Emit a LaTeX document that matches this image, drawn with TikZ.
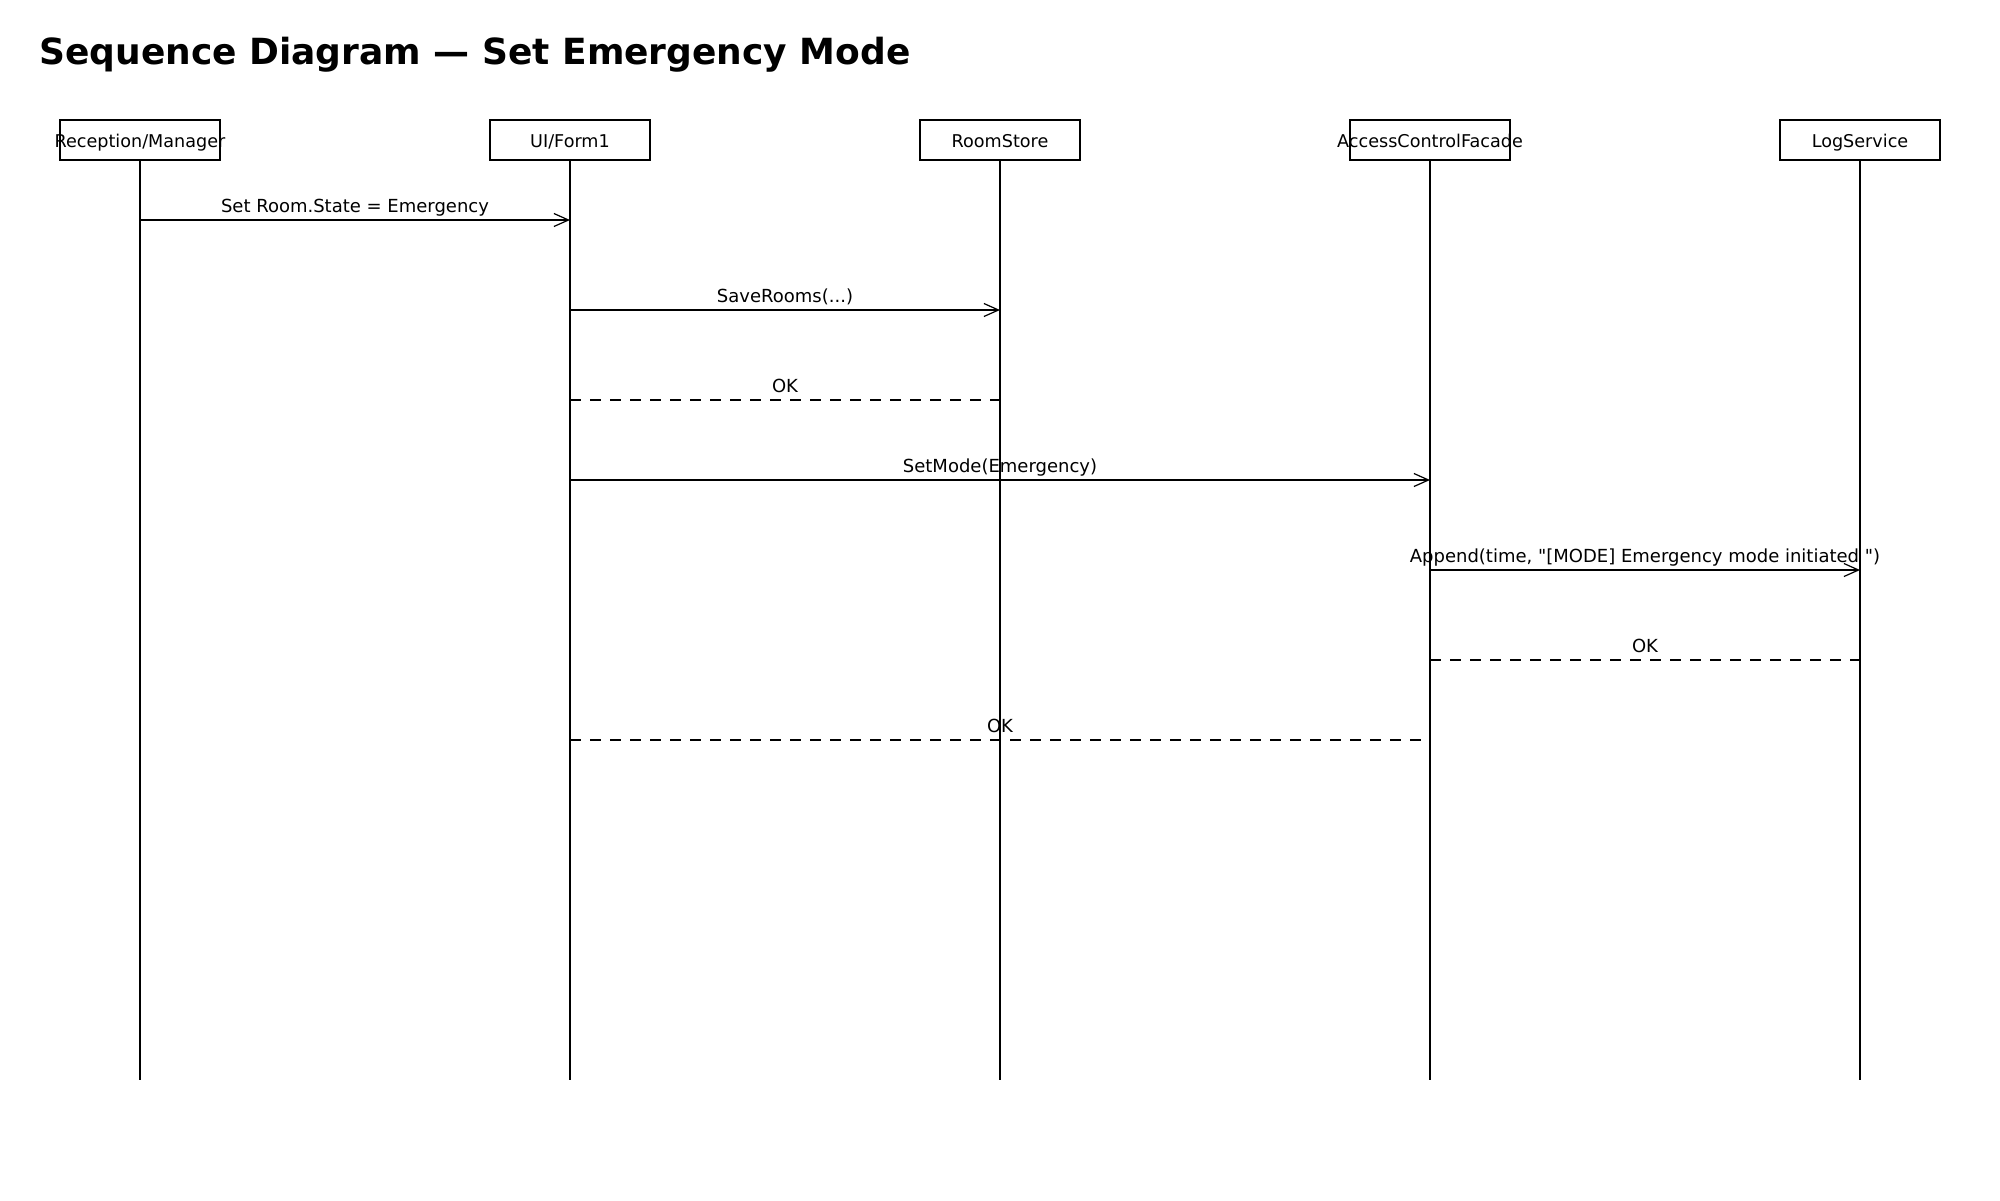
\documentclass[tikz,border=0pt]{standalone}
\usepackage{fontspec}
\setmainfont{DejaVu Sans}
\newfontfamily\rawfont{DejaVu Sans}[Ligatures=ResetAll]
\usetikzlibrary{arrows.meta}
\begin{document}
\begin{tikzpicture}[x=0.5pt,y=-0.5pt,
  lifebox/.style={draw, line width=1pt, minimum width=80pt, minimum height=20pt, inner sep=0pt},
  boxlabel/.style={inner sep=0pt, anchor=base, yshift=-3.5pt, font=\fontsize{8.8pt}{10pt}\selectfont},
  life/.style={line width=1pt},
  call/.style={line width=1pt, -{Straight Barb[length=7.3pt,width=6.5pt,line width=0.6pt]}},
  reply/.style={line width=1pt, dash pattern=on 5.5pt off 4.5pt},
  msglabel/.style={midway, anchor=base, yshift=4pt, inner sep=0pt, font=\rawfont\fontsize{9pt}{11pt}\selectfont}]
\useasboundingbox (0,0) rectangle (2000,1200);

\node[anchor=base west, inner sep=0pt, font=\bfseries\fontsize{18pt}{21pt}\selectfont] (title) at (39,64) {Sequence Diagram — Set Emergency Mode};

% lifeline heads
\node[lifebox] (bRM) at (140,140) {};
\node[lifebox] (bUI) at (570,140) {};
\node[lifebox] (bRS) at (1000,140) {};
\node[lifebox] (bAC) at (1430,140) {};
\node[lifebox] (bLS) at (1860,140) {};
\node[boxlabel] (tRM) at (bRM.center) {Reception/Manager};
\node[boxlabel] (tUI) at (bUI.center) {UI/Form1};
\node[boxlabel] (tRS) at (bRS.center) {RoomStore};
\node[boxlabel] (tAC) at (bAC.center) {AccessControlFacade};
\node[boxlabel] (tLS) at (bLS.center) {LogService};

% lifeline ends
\coordinate (eRM) at (140,1080);
\coordinate (eUI) at (570,1080);
\coordinate (eRS) at (1000,1080);
\coordinate (eAC) at (1430,1080);
\coordinate (eLS) at (1860,1080);
\draw[life] (bRM.south) -- (eRM);
\draw[life] (bUI.south) -- (eUI);
\draw[life] (bRS.south) -- (eRS);
\draw[life] (bAC.south) -- (eAC);
\draw[life] (bLS.south) -- (eLS);

% message rows
\coordinate (r1) at (0,220);
\coordinate (r2) at (0,310);
\coordinate (r3) at (0,400);
\coordinate (r4) at (0,480);
\coordinate (r5) at (0,570);
\coordinate (r6) at (0,660);
\coordinate (r7) at (0,740);

\draw[call] (bRM |- r1) -- node[msglabel] (m1) {Set Room.State = Emergency} (bUI |- r1);
\draw[call] (bUI |- r2) -- node[msglabel] (m2) {SaveRooms(...)} (bRS |- r2);
\draw[reply] (bUI |- r3) -- node[msglabel] (m3) {OK} (bRS |- r3);
\draw[call] (bUI |- r4) -- node[msglabel] (m4) {SetMode(Emergency)} (bAC |- r4);
\draw[call] (bAC |- r5) -- node[msglabel] (m5) {Append(time, "[MODE] Emergency mode initiated ")} (bLS |- r5);
\draw[reply] (bAC |- r6) -- node[msglabel] (m6) {OK} (bLS |- r6);
\draw[reply] (bUI |- r7) -- node[msglabel] (m7) {OK} (bAC |- r7);
\end{tikzpicture}
\end{document}
